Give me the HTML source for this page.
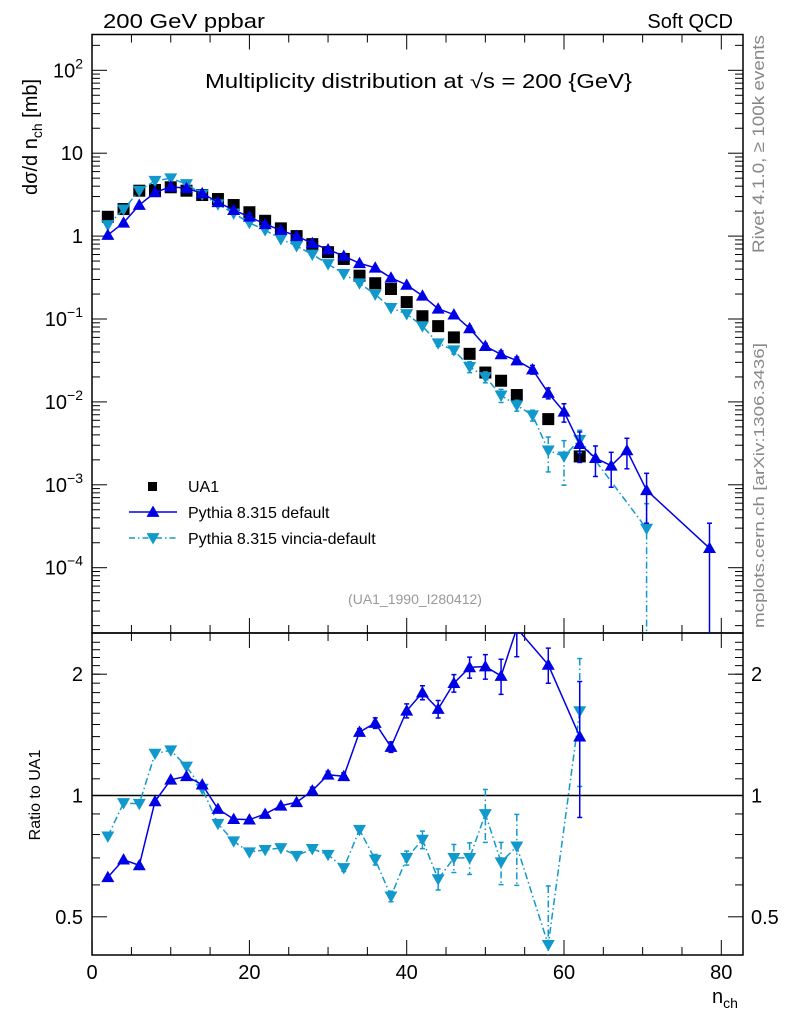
<!DOCTYPE html>
<html><head><meta charset="utf-8">
<style>
html,body{margin:0;padding:0;background:#fff;}
svg{display:block;font-family:"Liberation Sans",sans-serif;}
</style></head>
<body>
<svg id="chart" width="786" height="1024" viewBox="0 0 786 1024" xmlns="http://www.w3.org/2000/svg">
<text x="103" y="28" font-size="20" textLength="162" lengthAdjust="spacingAndGlyphs">200 GeV ppbar</text>
<text x="733" y="28" font-size="20" text-anchor="end">Soft QCD</text>
<text x="205" y="88" font-size="20" textLength="427" lengthAdjust="spacingAndGlyphs">Multiplicity distribution at √s = 200 {GeV}</text>
<text transform="translate(37,195) rotate(-90)" font-size="20">dσ/d n<tspan font-size="14" dy="5">ch</tspan><tspan dy="-5"> [mb]</tspan></text>
<text transform="translate(764,253) rotate(-90)" font-size="17" fill="#888" textLength="218" lengthAdjust="spacingAndGlyphs">Rivet 4.1.0, ≥ 100k events</text>
<text transform="translate(764,628) rotate(-90)" font-size="15" fill="#888" textLength="285" lengthAdjust="spacingAndGlyphs">mcplots.cern.ch [arXiv:1306.3436]</text>
<text x="415" y="604" font-size="14" fill="#999" text-anchor="middle">(UA1_1990_I280412)</text>
<text transform="translate(40,795) rotate(-90)" font-size="16" text-anchor="middle">Ratio to UA1</text>
<text x="712" y="1003" font-size="20">n<tspan font-size="14" dy="5">ch</tspan></text>
<g id="g"></g>
</svg>
<script>
// ---- data ----
const ua1X = [2,4,6,8,10,12,14,16,18,20,22,24,26,28,30,32,34,36,38,40,42,44,46,48,50,52,54,58,62];
const ua1Y = [1.71,2.12,3.53,3.6,3.88,3.53,3.13,2.8,2.37,1.94,1.53,1.24,1.0,0.80,0.64,0.53,0.333,0.27,0.23,0.16,0.108,0.082,0.060,0.038,0.0226,0.018,0.0121,0.0062,0.0022];
const defX = [2,4,6,8,10,12,14,16,18,20,22,24,26,28,30,32,34,36,38,40,42,44,46,48,50,52,54,56,58,60,62,64,66,68,70.5,78.5];
const defY = [1.03,1.45,2.37,3.37,3.94,3.78,3.28,2.56,2.06,1.71,1.39,1.18,1.0,0.82,0.69,0.575,0.47,0.415,0.314,0.258,0.191,0.133,0.113,0.077,0.047,0.0374,0.0316,0.0246,0.0128,0.0076,0.0031,0.0021,0.0017,0.0026,0.00086,0.000172];
const defErr = [0,0,0,0,0,0,0,0,0,0,0,0,0,0,0,0,0,0,0,0,0.03,0.04,0.05,0.07,0.08,0.1,0.1,0.12,0.15,0.25,0.4,0.4,0.45,0.4,0.6,1.0];
const vinX = [2,4,6,8,10,12,14,16,18,20,22,24,26,28,30,32,34,36,38,40,42,44,46,48,50,52,54,56,58,60,62,70.5];
const vinY = [1.36,2.1,3.53,4.65,4.98,4.25,3.19,2.42,1.88,1.45,1.18,0.92,0.76,0.60,0.46,0.35,0.27,0.198,0.136,0.115,0.082,0.051,0.042,0.0265,0.020,0.012,0.0091,0.0069,0.0026,0.0022,0.0035,0.000296];
const vinErr = [0,0,0,0,0,0,0,0,0,0,0,0,0,0,0,0,0,0,0,0.04,0.05,0.08,0.1,0.15,0.15,0.18,0.15,0.15,0.45,0.55,0.3,1.0];
const rDefX = [2,4,6,8,10,12,14,16,18,20,22,24,26,28,30,32,34,36,38,40,42,44,46,48,50,52,54,58,62];
const rDefY = [0.627,0.693,0.671,0.967,1.094,1.116,1.064,0.926,0.874,0.871,0.90,0.943,0.962,1.028,1.126,1.116,1.437,1.513,1.319,1.623,1.80,1.639,1.90,2.08,2.09,1.98,2.6,2.11,1.40];
const rDefErr = [0,0,0,0,0,0,0,0,0,0,0,0,0,0.02,0.02,0.02,0.02,0.03,0.03,0.04,0.04,0.05,0.05,0.06,0.07,0.1,0.15,0.1,0.37];
const rVinX = [2,4,6,8,10,12,14,16,18,20,22,24,26,28,30,32,34,36,38,40,42,44,46,48,50,52,54,58,62];
const rVinY = [0.792,0.958,0.954,1.27,1.295,1.18,1.04,0.851,0.77,0.723,0.733,0.741,0.709,0.737,0.713,0.661,0.822,0.693,0.562,0.70,0.777,0.62,0.70,0.70,0.90,0.683,0.748,0.426,1.62];
const rVinErr = [0,0,0,0,0,0,0,0,0,0,0,0,0,0,0.01,0.02,0.02,0.03,0.03,0.04,0.05,0.06,0.08,0.09,0.15,0.12,0.2,0.4,0.35];
const xTicks = [0,20,40,60,80];
const mainTickExp = [2,1,0,-1,-2,-3,-4];
const ratioTicks = [0.5,1,2];
const ratioTickLabels = ["0.5","1","2"];

// ---- geometry ----
const L=92,R=743,T=34.5,MB=633,B=955;
const X0=92.1, XS=7.865;
const x = v => X0 + v*XS;
const yM = v => 236.1 - 82.9*Math.log10(v);
const yR = v => 795.5 - 403*Math.log10(v);
const NS="http://www.w3.org/2000/svg";
const g=document.getElementById('g');
function mk(tag,attrs,parent){const e=document.createElementNS(NS,tag);for(const k in attrs)e.setAttribute(k,attrs[k]);(parent||g).appendChild(e);return e;}

let f1=mk('rect',{x:L,y:T,width:R-L,height:MB-T,fill:'none',stroke:'#000','stroke-width':1.5});


let f2=mk('rect',{x:L,y:MB,width:R-L,height:B-MB,fill:'none',stroke:'#000','stroke-width':1.5});



for(let v=0;v<=82;v+=5){
  const maj=v%20===0, len=maj?15:8;
  for(const [top,bot] of [[T,MB],[MB,B]]){
    mk('line',{x1:x(v),x2:x(v),y1:top,y2:top+len,stroke:'#000'});
    mk('line',{x1:x(v),x2:x(v),y1:bot,y2:bot-len,stroke:'#000'});
  }
}
xTicks.forEach(v=>{
  const t=mk('text',{x:x(v),y:979,'font-size':20,'text-anchor':'middle'});
  t.textContent=v;
  
  
});
for(let e=-5;e<=2;e++){
  for(let m=1;m<10;m++){
    const v=m*Math.pow(10,e), yy=yM(v);
    if(yy<T||yy>MB) continue;
    const len=m===1?15:8;
    mk('line',{x1:L,x2:L+len,y1:yy,y2:yy,stroke:'#000'});
    mk('line',{x1:R,x2:R-len,y1:yy,y2:yy,stroke:'#000'});
  }
}
mainTickExp.forEach(e=>{
  const t=mk('text',{x:83,y:yM(Math.pow(10,e))+7,'font-size':20,'text-anchor':'end'});
  
  
  if(e===0) t.textContent='1';
  else if(e===1) t.textContent='10';
  else {t.textContent='10'; const s=mk('tspan',{'font-size':14,dy:-9},t); s.textContent=String(e).replace('-','−');}
});
[0.4,0.5,0.6,0.7,0.8,0.9,1,2].forEach(v=>{
  const yy=yR(v); if(yy<MB||yy>B) return;
  const len=(v===1||v===2||v===0.5)?15:8;
  mk('line',{x1:L,x2:L+len,y1:yy,y2:yy,stroke:'#000'});
  mk('line',{x1:R,x2:R-len,y1:yy,y2:yy,stroke:'#000'});
});
for(let v=1.1;v<2.5;v+=0.1){const yy=yR(v);if(yy<MB)continue;
  mk('line',{x1:L,x2:L+8,y1:yy,y2:yy,stroke:'#000'});mk('line',{x1:R,x2:R-8,y1:yy,y2:yy,stroke:'#000'});}
ratioTicks.forEach((v,i)=>{
  for(const [xx,anc] of [[83,'end'],[751,'start']]){
    const t=mk('text',{x:xx,y:yR(v)+7,'font-size':20,'text-anchor':anc});
    t.textContent=ratioTickLabels[i];
    
    
  }
});
mk('line',{x1:L,x2:R,y1:yR(1),y2:yR(1),stroke:'#000','stroke-width':1.5});

const defs=mk('defs',{});
const c1=mk('clipPath',{id:'cm'},defs); mk('rect',{x:L,y:T,width:R-L,height:MB-T},c1);
const c2=mk('clipPath',{id:'cr'},defs); mk('rect',{x:L,y:MB,width:R-L,height:B-MB},c2);

function tri(cx,cy,up,col,parent){
  const s=6.5;
  const p=up?`${cx},${cy-s} ${cx-s},${cy+s*0.75} ${cx+s},${cy+s*0.75}`:`${cx},${cy+s} ${cx-s},${cy-s*0.75} ${cx+s},${cy-s*0.75}`;
  return mk('polygon',{points:p,fill:col},parent);
}
function series(name,xs,ys,errs,yf,col,dash,up,clip,bottom){
  const grp=mk('g',{'clip-path':`url(#${clip})`});
  
  
  const pts=xs.map((v,i)=>`${x(v)},${yf(ys[i])}`).join(' ');
  mk('polyline',{points:pts,fill:'none',stroke:col,'stroke-width':1.5,'stroke-dasharray':dash||'none'},grp);
  xs.forEach((v,i)=>{
    const e=errs[i]*ys[i];
    if(e>0){
      const y1=yf(ys[i]+e), y2=(ys[i]-e)>0?yf(ys[i]-e):bottom+5;
      mk('line',{x1:x(v),x2:x(v),y1:y1,y2:y2,stroke:col,'stroke-width':1.5,'stroke-dasharray':dash||'none'},grp);
      mk('line',{x1:x(v)-2.5,x2:x(v)+2.5,y1:y1,y2:y1,stroke:col,'stroke-width':1.5},grp);
      if(y2<bottom) mk('line',{x1:x(v)-2.5,x2:x(v)+2.5,y1:y2,y2:y2,stroke:col,'stroke-width':1.5},grp);
    }
    const m=tri(x(v),yf(ys[i]),up,col,grp);
    
    
  });
}
const ug=mk('g',{'clip-path':'url(#cm)'});


ua1X.forEach((v,i)=>{
  const r=mk('rect',{x:x(v)-6,y:yM(ua1Y[i])-6,width:12,height:12,fill:'#000'},ug);
  
  
});
const BLUE='#0000e6', CYAN='#1199cc', DD='7,3,1.5,3';
series('vincia-series',vinX,vinY,vinErr,yM,CYAN,DD,false,'cm',MB);
series('default-series',defX,defY,defErr,yM,BLUE,null,true,'cm',MB);
series('vincia-ratio',rVinX,rVinY,rVinErr,yR,CYAN,DD,false,'cr',B);
series('default-ratio',rDefX,rDefY,rDefErr,yR,BLUE,null,true,'cr',B);

const lg=mk('g',{});


mk('rect',{x:148,y:482,width:9,height:9,fill:'#000'},lg);
mk('line',{x1:129,x2:177,y1:512,y2:512,stroke:BLUE,'stroke-width':1.5},lg);
tri(153,512,true,BLUE,lg);
mk('line',{x1:129,x2:177,y1:538,y2:538,stroke:CYAN,'stroke-width':1.5,'stroke-dasharray':'6,3,1.5,3'},lg);
tri(153,538,false,CYAN,lg);
[['UA1',492,'legend-entry-ua1'],['Pythia 8.315 default',518,'legend-entry-default'],['Pythia 8.315 vincia-default',544,'legend-entry-vincia']].forEach(([s,yy,n])=>{
  const t=mk('text',{x:188,y:yy,'font-size':16},lg);
  t.textContent=s;
  
  
});
</script>
</body></html>
